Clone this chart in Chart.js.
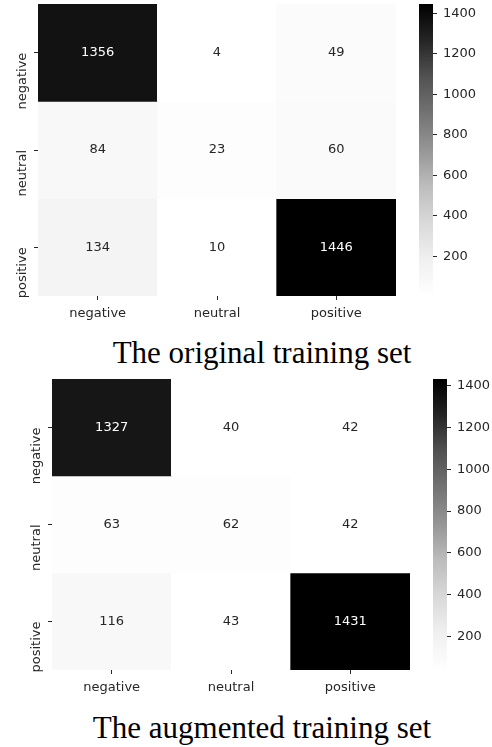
<!DOCTYPE html>
<html>
<head>
<meta charset="utf-8">
<script src="https://cdn.jsdelivr.net/npm/chart.js@4.4.1/dist/chart.umd.min.js"></script>
<style>
  html, body { margin: 0; padding: 0; background: #fff; }
  #page { position: relative; width: 492px; height: 747px; overflow: hidden; }
  canvas { position: absolute; display: block; }
  .caption {
    position: absolute; left: 16px; width: 492px; text-align: center;
    font-family: 'Liberation Serif', serif; font-size: 31px; line-height: 0;
    color: #000; white-space: nowrap;
  }
</style>
</head>
<body>
<div id="page">
  <canvas id="heatTop" width="400" height="332" style="left:0;top:0"></canvas>
  <canvas id="barTop" width="73" height="300" style="left:419px;top:0"></canvas>
  <div class="caption" id="capTop" style="top:352.5px"></div>
  <canvas id="heatBottom" width="414" height="331" style="left:0;top:375px"></canvas>
  <canvas id="barBottom" width="59" height="300" style="left:433px;top:375px"></canvas>
  <div class="caption" id="capBottom" style="top:727.5px"></div>
</div>
<script>
// Confusion matrices, rows = true label, columns = predicted label
const classes = ['negative', 'neutral', 'positive'];
const originalCounts = [
    [1356, 4, 49],
    [84, 23, 60],
    [134, 10, 1446]
];
const augmentedCounts = [
    [1327, 40, 42],
    [63, 62, 42],
    [116, 43, 1431]
];
const colorbarTicks = [200, 400, 600, 800, 1000, 1200, 1400];
const captions = ['The original training set', 'The augmented training set'];

// matplotlib "Greys" colormap
const greyStops = ['#ffffff', '#f0f0f0', '#d9d9d9', '#bdbdbd', '#969696', '#737373', '#525252', '#252525', '#000000'];
const TICK_COLOR = '#262626';

Chart.defaults.font.family = "'DejaVu Sans', sans-serif";
Chart.defaults.font.size = 13;
Chart.defaults.color = TICK_COLOR;

function greyLevel(t) {
    t = Math.min(1, Math.max(0, t));
    const pos = t * (greyStops.length - 1);
    const i = Math.min(Math.floor(pos), greyStops.length - 2);
    const a = parseInt(greyStops[i].slice(1, 3), 16);
    const b = parseInt(greyStops[i + 1].slice(1, 3), 16);
    return Math.round(a + (b - a) * (pos - i));
}

// same rule seaborn uses to pick annotation colour
function textColorFor(level) {
    const c = level / 255;
    const lum = c <= 0.03928 ? c / 12.92 : Math.pow((c + 0.055) / 1.055, 2.4);
    return lum > 0.408 ? TICK_COLOR : '#ffffff';
}

// force an axis size and drop the label overflow padding chart.js adds
function fixSize(prop, size) {
    return s => {
        s[prop] = size;
        s.paddingTop = s.paddingBottom = s.paddingLeft = s.paddingRight = 0;
    };
}

const cellLabels = {
    id: 'cellLabels',
    afterDatasetsDraw(chart) {
        const ctx = chart.ctx;
        ctx.save();
        ctx.font = "13px 'DejaVu Sans', sans-serif";
        ctx.textAlign = 'center';
        ctx.textBaseline = 'middle';
        chart.data.datasets.forEach((ds, r) => {
            chart.getDatasetMeta(r).data.forEach((bar, c) => {
                ctx.fillStyle = ds.textColors[c];
                ctx.fillText(String(ds.counts[c]), bar.x, (bar.y + bar.base) / 2);
            });
        });
        ctx.restore();
    }
};

function makeHeatmap(id, counts, yAxisWidth) {
    const flat = counts.flat();
    const vmin = Math.min(...flat), vmax = Math.max(...flat);

    const datasets = counts.map((row, r) => {
        const levels = row.map(v => greyLevel((v - vmin) / (vmax - vmin)));
        return {
            data: row.map(() => [r, r + 1]),
            counts: row,
            textColors: levels.map(textColorFor),
            backgroundColor: levels.map(g => `rgb(${g},${g},${g})`),
            borderWidth: 0,
            barPercentage: 1,
            categoryPercentage: 1,
            grouped: false
        };
    });

    return new Chart(document.getElementById(id), {
        type: 'bar',
        data: { labels: classes, datasets: datasets },
        plugins: [cellLabels],
        options: {
            responsive: false,
            animation: false,
            layout: { padding: { top: 4, right: 4, left: 0, bottom: 0 }, autoPadding: false },
            plugins: { legend: { display: false }, tooltip: { enabled: false } },
            scales: {
                x: {
                    grid: { offset: false, drawOnChartArea: false, tickLength: 4, tickColor: TICK_COLOR },
                    border: { display: false },
                    ticks: { padding: 6 },
                    afterFit: fixSize('height', 36)
                },
                y: {
                    type: 'linear',
                    min: 0,
                    max: classes.length,
                    reverse: true,
                    afterBuildTicks: axis => { axis.ticks = classes.map((_, i) => ({ value: i + 0.5 })); },
                    ticks: { callback: (v, i) => classes[i], minRotation: 90, maxRotation: 90, padding: 11 },
                    grid: { drawOnChartArea: false, tickLength: 4, tickColor: TICK_COLOR },
                    border: { display: false },
                    afterFit: fixSize('width', yAxisWidth)
                }
            }
        }
    });
}

function makeColorbar(id, counts, axisWidth, padBottom) {
    const flat = counts.flat();
    const vmin = Math.min(...flat), vmax = Math.max(...flat);

    return new Chart(document.getElementById(id), {
        type: 'bar',
        data: {
            labels: [''],
            datasets: [{
                data: [[vmin, vmax]],
                backgroundColor: context => {
                    const chart = context.chart;
                    if (!chart.chartArea) return '#ffffff';
                    const y = chart.scales.y;
                    const g = chart.ctx.createLinearGradient(0, y.getPixelForValue(vmin), 0, y.getPixelForValue(vmax));
                    greyStops.forEach((c, i) => g.addColorStop(i / (greyStops.length - 1), c));
                    return g;
                },
                borderWidth: 0,
                barPercentage: 1,
                categoryPercentage: 1
            }]
        },
        options: {
            responsive: false,
            animation: false,
            layout: { padding: { top: 4, bottom: padBottom, left: 0, right: 0 }, autoPadding: false },
            plugins: { legend: { display: false }, tooltip: { enabled: false } },
            scales: {
                x: { display: false, afterFit: fixSize('height', 0) },
                y: {
                    position: 'right',
                    min: vmin,
                    max: vmax,
                    afterBuildTicks: axis => { axis.ticks = colorbarTicks.map(v => ({ value: v })); },
                    ticks: { callback: v => String(v), padding: 6 },
                    grid: { drawOnChartArea: false, tickLength: 4, tickColor: TICK_COLOR },
                    border: { display: false },
                    afterFit: fixSize('width', axisWidth)
                }
            }
        }
    });
}

makeHeatmap('heatTop', originalCounts, 38);
makeColorbar('barTop', originalCounts, 59, 4);
makeHeatmap('heatBottom', augmentedCounts, 52);
makeColorbar('barBottom', augmentedCounts, 45, 5);

document.getElementById('capTop').textContent = captions[0];
document.getElementById('capBottom').textContent = captions[1];
</script>
</body>
</html>
